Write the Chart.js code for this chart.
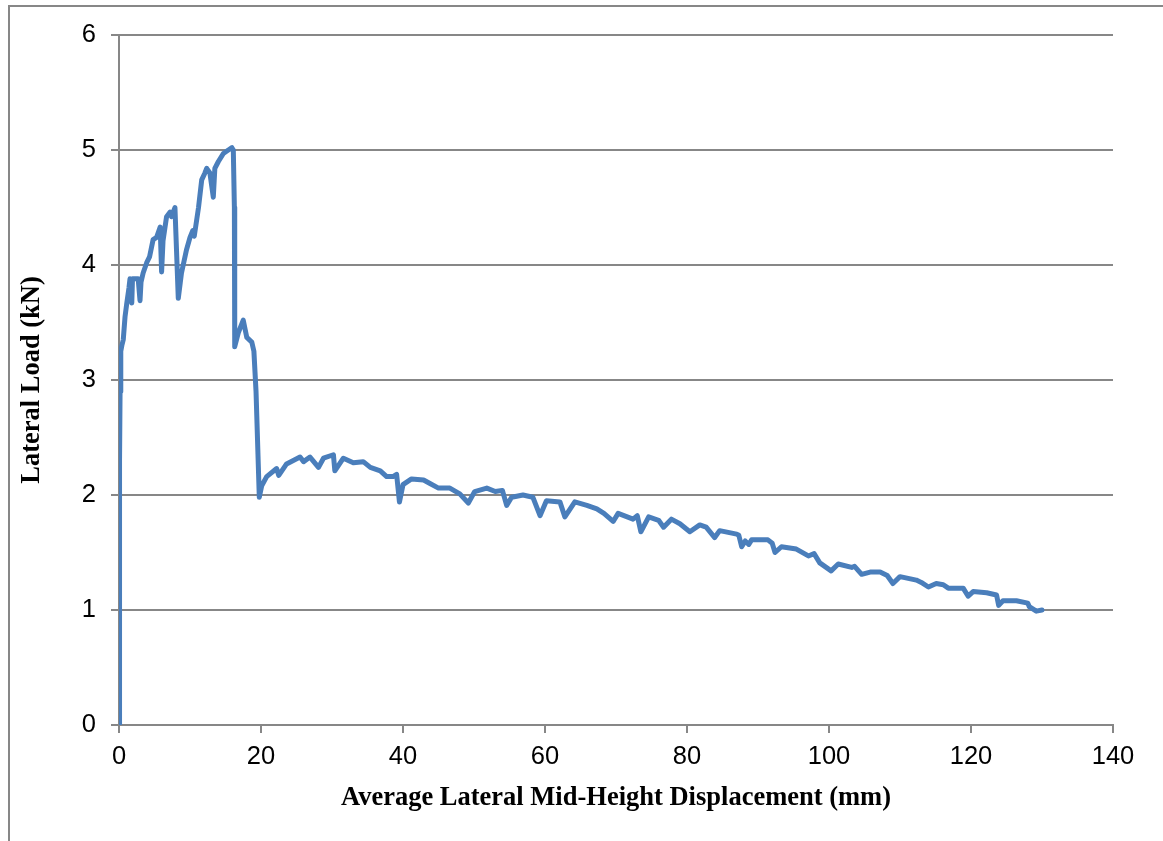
<!DOCTYPE html>
<html>
<head>
<meta charset="utf-8">
<title>Lateral Load vs Mid-Height Displacement</title>
<script src="https://cdn.jsdelivr.net/npm/chart.js@4/dist/chart.umd.min.js"></script>
<style>
  html, body { margin: 0; padding: 0; background: #ffffff; }
  #wrap { width: 1163px; height: 841px; }
</style>
</head>
<body>
<div id="wrap"><canvas id="chart" width="1163" height="841"></canvas></div>
<script>
// Average lateral mid-height displacement (mm)
const displacement = [
  0, 0.05, 0.1, 0.15, 0.25, 0.4, 0.6, 0.85, 1.1, 1.4,
  1.55, 1.8, 1.9, 2.2, 2.7, 2.96, 3.1, 3.4, 3.9, 4.3,
  4.8, 5.3, 5.8, 6.0, 6.2, 6.7, 7.2, 7.4, 7.88, 8.35,
  8.8, 9.5, 10.0, 10.4, 10.6, 11.2, 11.65, 12.1, 12.35, 12.8,
  13.28, 13.5, 14.0, 14.7, 15.4, 15.9, 16.1, 16.25, 16.3, 16.8,
  17.5, 18.0, 18.7, 19.0, 19.3, 19.76, 20.1, 20.8, 22.2, 22.5,
  23.6, 25.5, 26.0, 26.9, 28.1, 28.8, 30.2, 30.4, 31.6, 33.0,
  34.4, 35.4, 36.8, 37.7, 38.6, 39.1, 39.5, 40.0, 41.2, 42.9,
  43.8, 45.0, 46.6, 48.0, 49.2, 50.1, 51.8, 53.0, 54.0, 54.6,
  55.3, 56.9, 58.3, 59.3, 60.2, 62.1, 62.8, 64.2, 65.9, 67.3,
  68.3, 69.6, 70.3, 72.4, 73.0, 73.5, 74.6, 76.0, 76.7, 77.8,
  79.0, 80.4, 81.8, 82.7, 83.9, 84.6, 87.0, 87.3, 87.7, 88.2,
  88.7, 89.1, 91.4, 92.0, 92.4, 93.3, 95.4, 97.1, 97.9, 98.7,
  100.3, 101.3, 103.2, 103.6, 104.6, 105.8, 107.2, 108.2, 109.0, 110.0,
  112.3, 113.0, 114.0, 115.1, 116.1, 116.8, 118.9, 119.6, 120.3, 122.2,
  123.6, 123.9, 124.5, 126.4, 128.0, 128.2, 129.2, 130.0
];

// Lateral load (kN)
const lateralLoad = [
  0, 1.2, 2.3, 2.9, 3.25, 3.3, 3.35, 3.55, 3.67, 3.8,
  3.88, 3.67, 3.88, 3.88, 3.88, 3.69, 3.85, 3.93, 4.02, 4.07,
  4.22, 4.24, 4.33, 3.94, 4.21, 4.42, 4.46, 4.42, 4.5, 3.71,
  3.93, 4.13, 4.24, 4.3, 4.25, 4.5, 4.74, 4.8, 4.84, 4.8,
  4.59, 4.84, 4.9, 4.97, 5.0, 5.02, 5.0, 4.5, 3.29, 3.41,
  3.52, 3.37, 3.33, 3.25, 2.9, 1.98, 2.08, 2.16, 2.23, 2.17,
  2.27, 2.33, 2.29, 2.33, 2.24, 2.32, 2.35, 2.21, 2.32, 2.28,
  2.29, 2.24, 2.21, 2.16, 2.16, 2.18, 1.94, 2.09, 2.14, 2.13,
  2.10, 2.06, 2.06, 2.01, 1.93, 2.03, 2.06, 2.03, 2.04, 1.91,
  1.98, 2.0, 1.98, 1.82, 1.95, 1.94, 1.81, 1.94, 1.91, 1.88,
  1.84, 1.77, 1.84, 1.79, 1.82, 1.68, 1.81, 1.78, 1.72, 1.79,
  1.75, 1.68, 1.74, 1.72, 1.63, 1.69, 1.66, 1.65, 1.55, 1.60,
  1.57, 1.61, 1.61, 1.58, 1.50, 1.55, 1.53, 1.47, 1.49, 1.41,
  1.34, 1.40, 1.37, 1.38, 1.31, 1.33, 1.33, 1.30, 1.23, 1.29,
  1.26, 1.24, 1.20, 1.23, 1.22, 1.19, 1.19, 1.12, 1.16, 1.15,
  1.13, 1.04, 1.08, 1.08, 1.06, 1.03, 0.99, 1.00
];

const xTitle = 'Average Lateral Mid-Height Displacement (mm)';
const yTitle = 'Lateral Load (kN)';

const GRID = '#878787';
const LINE = '#4a7ebb';
const TICK_FONT = { family: '"Liberation Sans", Arial, sans-serif', size: 25.5 };
const TITLE_FONT = { family: '"Liberation Serif", "Times New Roman", serif', size: 26.5, weight: 'bold' };

const points = displacement.map((d, i) => ({ x: d, y: lateralLoad[i] }));

// Outer frame of the chart object (left and top edges)
const framePlugin = {
  id: 'frame',
  beforeDraw(chart) {
    const ctx = chart.ctx;
    ctx.save();
    ctx.fillStyle = '#ffffff';
    ctx.fillRect(0, 0, chart.width, chart.height);
    ctx.strokeStyle = GRID;
    ctx.lineWidth = 2;
    ctx.beginPath();
    ctx.moveTo(9, chart.height);
    ctx.lineTo(9, 6);
    ctx.lineTo(chart.width, 6);
    ctx.stroke();
    ctx.restore();
  }
};

new Chart(document.getElementById('chart'), {
  type: 'scatter',
  data: {
    datasets: [{
      data: points,
      showLine: true,
      borderColor: LINE,
      backgroundColor: LINE,
      borderWidth: 5,
      pointRadius: 0,
      pointHoverRadius: 0,
      tension: 0,
      borderJoinStyle: 'round',
      borderCapStyle: 'round'
    }]
  },
  options: {
    responsive: false,
    animation: false,
    events: [],
    layout: { padding: { left: 0, top: 35, right: 50, bottom: 0 } },
    plugins: {
      legend: { display: false },
      tooltip: { enabled: false }
    },
    scales: {
      x: {
        type: 'linear',
        min: 0,
        max: 140,
        afterFit(scale) { scale.height = 116; },
        ticks: {
          stepSize: 20,
          padding: 9,
          color: '#000000',
          font: TICK_FONT
        },
        grid: {
          drawOnChartArea: false,
          drawTicks: true,
          tickLength: 8,
          color: GRID,
          lineWidth: 2
        },
        border: { display: true, color: GRID, width: 2 },
        title: {
          display: true,
          text: xTitle,
          color: '#000000',
          font: TITLE_FONT,
          padding: { top: 0, bottom: 27 }
        }
      },
      y: {
        type: 'linear',
        min: 0,
        max: 6,
        afterFit(scale) { scale.width = 119; },
        ticks: {
          stepSize: 1,
          padding: 15,
          color: '#000000',
          font: TICK_FONT
        },
        grid: {
          drawOnChartArea: true,
          drawTicks: true,
          tickLength: 8,
          color: GRID,
          lineWidth: 2
        },
        border: { display: true, color: GRID, width: 2 },
        title: {
          display: true,
          text: yTitle,
          color: '#000000',
          font: TITLE_FONT,
          padding: { top: 16, bottom: 0 }
        }
      }
    }
  },
  plugins: [framePlugin]
});
</script>
</body>
</html>
